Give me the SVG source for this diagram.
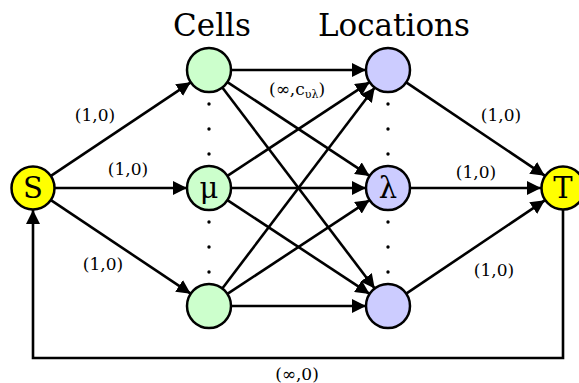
<svg xmlns="http://www.w3.org/2000/svg" width="579" height="383" viewBox="0 0 579 383">
<style>
.e{stroke:#000;stroke-width:2.6;fill:none;marker-end:url(#ah)}
.n{stroke:#000;stroke-width:2.5}
.cell{fill:#ccffcc}
.loc{fill:#ccccff}
.st{fill:#ffff00}
.t{font-family:"DejaVu Serif",serif;fill:#000}
.lbl{font-size:17px;text-anchor:middle}
.hd{font-size:31px;text-anchor:middle}
.nl{font-size:29px;text-anchor:middle;dominant-baseline:central}
.dot{fill:#000}
</style>
<defs>
<marker id="ah" markerUnits="userSpaceOnUse" markerWidth="15" markerHeight="14" refX="14" refY="7" orient="auto">
<path d="M0,0 L14,7 L0,14 z" fill="#000"/>
</marker>
</defs>
<rect width="579" height="383" fill="#fff"/>
<g id="connectors">
<line class="e" x1="51.3" y1="175.7" x2="190.7" y2="82.3"/>
<line class="e" x1="55" y1="188" x2="187" y2="188"/>
<line class="e" x1="51.3" y1="200.3" x2="190.7" y2="293.7"/>
<line class="e" x1="231" y1="70" x2="366" y2="70"/>
<line class="e" x1="227.4" y1="82.1" x2="369.6" y2="175.9"/>
<line class="e" x1="222.3" y1="87.5" x2="374.7" y2="288.5"/>
<line class="e" x1="227.4" y1="175.9" x2="369.6" y2="82.1"/>
<line class="e" x1="231" y1="188" x2="366" y2="188"/>
<line class="e" x1="227.4" y1="200.1" x2="369.6" y2="293.9"/>
<line class="e" x1="222.3" y1="288.5" x2="374.7" y2="87.5"/>
<line class="e" x1="227.4" y1="293.9" x2="369.6" y2="200.1"/>
<line class="e" x1="231" y1="306" x2="366" y2="306"/>
<line class="e" x1="406.2" y1="82.3" x2="544.8" y2="175.7"/>
<line class="e" x1="410" y1="188" x2="541" y2="188"/>
<line class="e" x1="406.2" y1="293.7" x2="544.8" y2="200.3"/>
<path class="e" d="M563,210 V358 H33 V210"/>
</g>
<g id="labels">
<text class="t hd" x="212" y="36">Cells</text>
<text class="t hd" x="394" y="36">Locations</text>
<text class="t lbl" x="95" y="121">(1,0)</text>
<text class="t lbl" x="128" y="175">(1,0)</text>
<text class="t lbl" x="103" y="270">(1,0)</text>
<text class="t lbl" x="501" y="121">(1,0)</text>
<text class="t lbl" x="476" y="178">(1,0)</text>
<text class="t lbl" x="494" y="276">(1,0)</text>
<text class="t lbl" x="297" y="380">(∞,0)</text>
<text class="t" x="269" y="95" font-size="17">(∞,c<tspan font-size="11" dy="3">υλ</tspan><tspan dy="-3">)</tspan></text>
</g>
<g id="dots">
<circle class="dot" cx="209" cy="104" r="1.7"/>
<circle class="dot" cx="209" cy="129" r="1.7"/>
<circle class="dot" cx="209" cy="154" r="1.7"/>
<circle class="dot" cx="209" cy="222" r="1.7"/>
<circle class="dot" cx="209" cy="247" r="1.7"/>
<circle class="dot" cx="209" cy="272" r="1.7"/>
<circle class="dot" cx="388" cy="104" r="1.7"/>
<circle class="dot" cx="388" cy="129" r="1.7"/>
<circle class="dot" cx="388" cy="154" r="1.7"/>
<circle class="dot" cx="388" cy="222" r="1.7"/>
<circle class="dot" cx="388" cy="247" r="1.7"/>
<circle class="dot" cx="388" cy="272" r="1.7"/>
</g>
<g id="S"><circle class="n st" cx="33" cy="188" r="21.5"/><text class="t nl" x="33" y="188">S</text></g>
<g id="T"><circle class="n st" cx="563" cy="188" r="21.5"/><text class="t nl" x="563" y="188">T</text></g>
<g id="cell1"><circle class="n cell" cx="209" cy="70" r="22"/></g>
<g id="cell-mu"><circle class="n cell" cx="209" cy="188" r="22"/><text class="t nl" x="209" y="188">μ</text></g>
<g id="cell3"><circle class="n cell" cx="209" cy="306" r="22"/></g>
<g id="loc1"><circle class="n loc" cx="388" cy="70" r="22"/></g>
<g id="loc-lambda"><circle class="n loc" cx="388" cy="188" r="22"/><text class="t nl" x="388" y="188">λ</text></g>
<g id="loc3"><circle class="n loc" cx="388" cy="306" r="22"/></g>
</svg>
